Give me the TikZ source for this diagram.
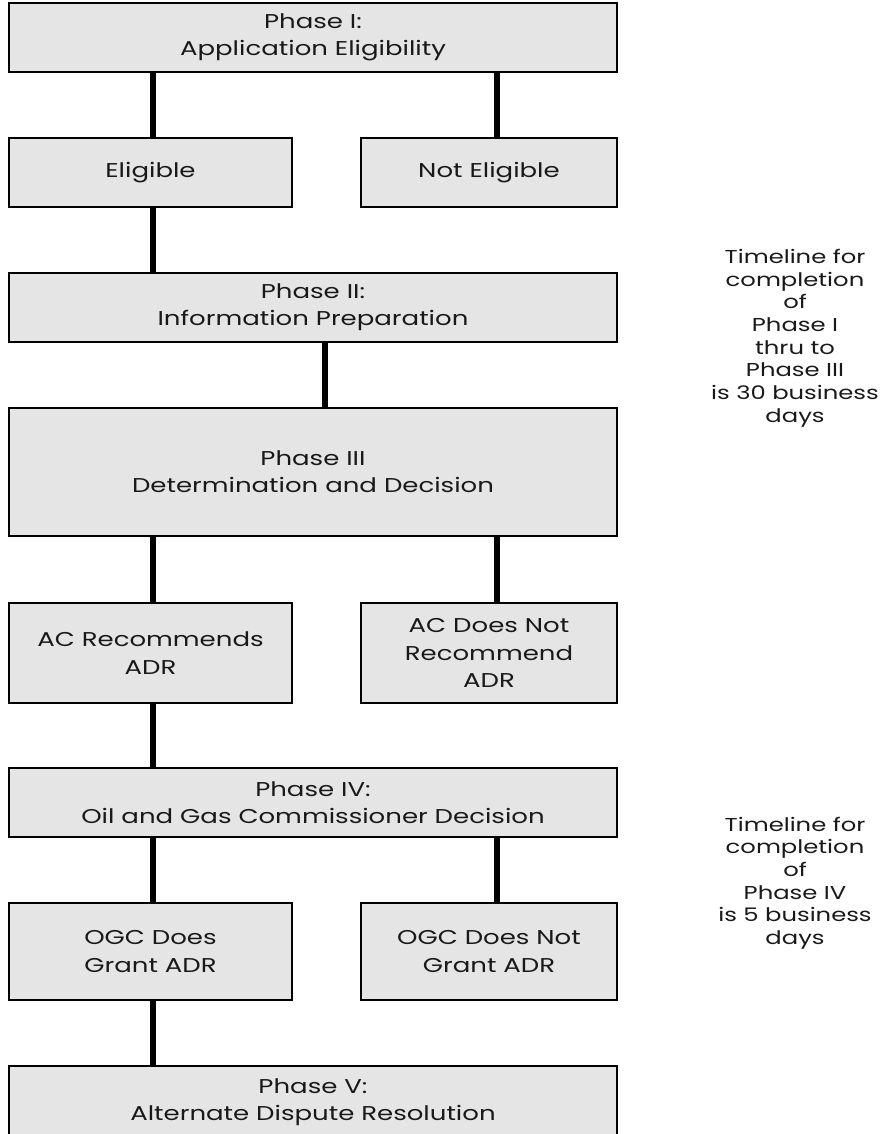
\documentclass[tikz,border=0pt]{standalone}
\usepackage{fontspec}
\setmainfont{Poppins}[FakeStretch=1.3]
\definecolor{boxfill}{RGB}{229,229,229}
\definecolor{ink}{RGB}{25,25,25}
\begin{document}
\begin{tikzpicture}[x=0.75pt,y=-0.75pt,
  box/.style={draw=black, line width=1.1pt, fill=boxfill, inner sep=0pt, align=center,
    text=ink, font=\fontsize{15}{20.5}\selectfont},
  widebox/.style={box, minimum width=456pt},
  leftbox/.style={box, minimum width=212.25pt},
  rightbox/.style={box, minimum width=192pt},
  link/.style={line width=4.5pt},
  note/.style={align=center, text=ink, font=\fontsize{14}{17}\selectfont}]
\useasboundingbox (0,0) rectangle (885,1134);
\node[widebox, minimum height=51.75pt] (p1) at (313,37.5) {Phase I:\\Application Eligibility};
\node[leftbox, minimum height=51.75pt] (elig) at (150.5,172.5) {Eligible};
\node[rightbox, minimum height=51.75pt] (nelig) at (489,172.5) {Not Eligible};
\node[widebox, minimum height=51.75pt] (p2) at (313,307.5) {Phase II:\\Information Preparation};
\node[widebox, minimum height=96pt] (p3) at (313,472) {Phase III\\Determination and Decision};
\node[leftbox, minimum height=75pt] (acr) at (150.5,653) {AC Recommends\\ADR};
\node[rightbox, minimum height=75pt] (acn) at (489,653) {AC Does Not\\Recommend\\ADR};
\node[widebox, minimum height=51.75pt] (p4) at (313,802.5) {Phase IV:\\Oil and Gas Commissioner Decision};
\node[leftbox, minimum height=72.75pt] (ogcg) at (150.5,951.5) {OGC Does\\Grant ADR};
\node[rightbox, minimum height=72.75pt] (ogcn) at (489,951.5) {OGC Does Not\\Grant ADR};
\node[widebox, minimum height=54pt] (p5) at (313,1102) {Phase V:\\Alternate Dispute Resolution};
\node[note] (t1) at (795,338) {Timeline for\\completion\\of\\Phase I\\thru to\\Phase III\\is 30 business\\days};
\node[note] (t2) at (795,883) {Timeline for\\completion\\of\\Phase IV\\is 5 business\\days};
\coordinate (cl) at (153,0);
\coordinate (cm) at (325,0);
\coordinate (cr) at (497,0);
\draw[link] (p1.south -| cl) -- (elig.north -| cl);
\draw[link] (p1.south -| cr) -- (nelig.north -| cr);
\draw[link] (elig.south -| cl) -- (p2.north -| cl);
\draw[link] (p2.south -| cm) -- (p3.north -| cm);
\draw[link] (p3.south -| cl) -- (acr.north -| cl);
\draw[link] (p3.south -| cr) -- (acn.north -| cr);
\draw[link] (acr.south -| cl) -- (p4.north -| cl);
\draw[link] (p4.south -| cl) -- (ogcg.north -| cl);
\draw[link] (p4.south -| cr) -- (ogcn.north -| cr);
\draw[link] (ogcg.south -| cl) -- (p5.north -| cl);
\end{tikzpicture}
\end{document}
